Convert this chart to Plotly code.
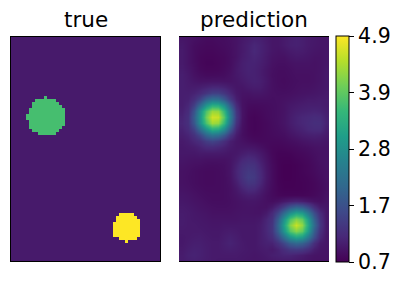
import plotly.graph_objects as go

tick_values = [0.7, 1.75, 2.8, 3.85, 4.9]
tick_labels = ["0.7", "1.7", "2.8", "3.9", "4.9"]
true_shape = (76, 50)
background_value = 1.0
green_value = 3.64
yellow_value = 4.9
# row: (first column, last column) of each blob in the "true" image
green_runs = {20: (11, 11), 21: (8, 14), 22: (7, 15), 23: (7, 16), 24: (6, 17), 25: (6, 17), 26: (5, 17),
              27: (5, 17), 28: (6, 17), 29: (6, 17), 30: (6, 16), 31: (7, 15), 32: (9, 14)}
yellow_runs = {59: (36, 40), 60: (35, 41), 61: (35, 42), 62: (34, 42), 63: (34, 42), 64: (34, 42), 65: (34, 42),
               66: (34, 42), 67: (36, 41), 68: (38, 38)}

prediction = [
[.95,.92,.88,.85,.82,.82,.84,.85,.88,.92,.98,1.03,1.08,1.06,1.0,.95,.95,1.0,1.05,1.08,1.05,1.0,.98,.95,.95],
[.98,.92,.85,.82,.8,.8,.82,.84,.87,.92,1.0,1.07,1.15,1.1,1.02,.95,.95,1.0,1.06,1.08,1.05,1.0,.97,.95,.95],
[1.0,.92,.84,.8,.78,.78,.8,.82,.86,.92,1.0,1.08,1.17,1.1,1.02,.95,.92,.95,1.0,1.03,1.02,.98,.95,.93,.95],
[1.0,.92,.84,.78,.76,.76,.78,.8,.85,.92,1.02,1.08,1.13,1.08,1.0,.92,.9,.9,.95,.98,.97,.95,.92,.92,.95],
[1.0,.92,.85,.78,.75,.75,.77,.8,.85,.95,1.05,1.1,1.1,1.05,.98,.9,.87,.87,.9,.92,.92,.92,.9,.92,.95],
[1.02,.95,.87,.8,.77,.77,.78,.82,.87,.97,1.05,1.1,1.08,1.03,.95,.88,.85,.85,.87,.9,.9,.9,.9,.92,.97],
[1.05,.98,.9,.85,.82,.82,.83,.85,.9,.97,1.03,1.08,1.08,1.03,.95,.87,.84,.84,.86,.88,.88,.88,.9,.93,.98],
[1.05,1.0,.95,.92,.92,.93,.93,.92,.92,.95,1.0,1.05,1.08,1.05,.97,.88,.84,.83,.85,.87,.88,.88,.9,.93,.98],
[1.05,1.02,1.02,1.05,1.1,1.15,1.15,1.1,1.02,.95,.95,1.0,1.03,1.02,.95,.88,.85,.84,.86,.88,.9,.9,.92,.95,.98],
[1.05,1.05,1.1,1.2,1.35,1.5,1.5,1.35,1.15,.98,.92,.92,.95,.95,.92,.88,.87,.87,.88,.9,.92,.93,.95,.97,1.0],
[1.05,1.08,1.25,1.55,2.0,2.25,2.2,1.85,1.4,1.05,.9,.87,.88,.88,.88,.87,.88,.9,.92,.95,.97,1.0,1.0,1.02,1.02],
[1.05,1.15,1.5,2.15,2.85,3.3,3.25,2.75,1.9,1.2,.9,.83,.82,.83,.84,.86,.88,.92,.97,1.0,1.03,1.05,1.05,1.05,1.02],
[1.08,1.22,1.8,2.8,3.7,4.25,4.2,3.45,2.35,1.35,.92,.8,.78,.8,.83,.85,.88,.92,1.0,1.05,1.08,1.1,1.12,1.1,1.05],
[1.12,1.28,1.95,2.9,3.95,4.6,4.55,3.75,2.5,1.4,.92,.78,.75,.78,.82,.85,.88,.93,1.02,1.1,1.15,1.18,1.22,1.2,1.08],
[1.15,1.28,1.85,2.8,3.7,4.3,4.2,3.45,2.3,1.3,.9,.78,.75,.77,.8,.84,.88,.93,1.02,1.1,1.15,1.2,1.25,1.25,1.1],
[1.1,1.22,1.55,2.2,2.85,3.35,3.25,2.7,1.85,1.15,.88,.78,.75,.77,.8,.83,.86,.9,.98,1.05,1.1,1.17,1.2,1.2,1.05],
[1.05,1.12,1.3,1.6,2.05,2.3,2.2,1.85,1.35,1.02,.87,.8,.77,.78,.8,.82,.84,.86,.92,.97,1.02,1.05,1.07,1.05,1.0],
[1.0,1.05,1.15,1.25,1.45,1.55,1.45,1.25,1.05,.95,.9,.85,.82,.8,.8,.8,.8,.82,.85,.88,.92,.95,.97,.97,.95],
[.98,1.0,1.03,1.1,1.18,1.2,1.15,1.08,1.0,.95,.95,.95,.93,.88,.82,.78,.77,.78,.8,.82,.85,.87,.9,.92,.92],
[.97,.97,.97,1.0,1.0,1.0,1.0,.98,.95,.97,1.03,1.08,1.05,.98,.88,.78,.74,.74,.75,.78,.8,.83,.87,.9,.92],
[.95,.93,.92,.92,.9,.9,.9,.9,.93,1.02,1.15,1.22,1.18,1.05,.92,.8,.73,.72,.72,.75,.77,.8,.85,.9,.92],
[.92,.9,.88,.87,.85,.84,.85,.87,.93,1.08,1.25,1.32,1.3,1.12,.95,.82,.73,.7,.7,.72,.75,.78,.83,.88,.92],
[.9,.88,.85,.83,.82,.82,.83,.86,.93,1.12,1.3,1.4,1.36,1.18,.97,.83,.73,.7,.7,.72,.75,.78,.82,.87,.9],
[.9,.87,.85,.83,.82,.82,.83,.85,.92,1.1,1.3,1.45,1.4,1.2,.98,.83,.73,.7,.7,.72,.74,.76,.8,.85,.9],
[.9,.88,.85,.83,.82,.82,.83,.85,.9,1.03,1.22,1.35,1.32,1.15,.95,.83,.74,.71,.71,.72,.73,.75,.78,.83,.88],
[.92,.9,.87,.85,.83,.83,.83,.85,.88,.97,1.1,1.2,1.18,1.05,.92,.82,.75,.72,.72,.72,.73,.75,.78,.82,.88],
[.95,.93,.9,.87,.85,.84,.84,.85,.88,.93,1.0,1.05,1.03,.97,.88,.82,.77,.76,.76,.76,.76,.77,.8,.84,.9],
[.97,.95,.92,.9,.87,.85,.85,.85,.87,.9,.93,.95,.95,.92,.88,.85,.9,.98,1.05,1.1,1.05,.97,.9,.87,.92],
[1.0,.98,.95,.92,.9,.88,.87,.87,.88,.9,.92,.93,.92,.9,.9,1.0,1.2,1.5,1.85,2.05,1.95,1.65,1.25,1.0,.95],
[1.02,1.0,.97,.95,.93,.9,.9,.9,.9,.92,.93,.93,.92,.92,1.0,1.2,1.6,2.2,2.8,3.15,3.0,2.4,1.7,1.2,.97],
[1.03,1.0,.98,.97,.95,.93,.93,.93,.93,.93,.95,.95,.95,.98,1.12,1.3,1.95,2.85,3.7,4.1,3.85,3.0,2.0,1.3,.97],
[1.02,1.0,1.0,.98,.97,.95,.95,.97,.97,.97,.97,.97,.97,1.02,1.15,1.35,2.1,3.1,4.1,4.55,4.2,3.2,2.15,1.35,.97],
[1.0,1.0,1.0,1.0,.98,.97,.97,1.0,1.02,1.0,.97,.97,.97,1.03,1.15,1.35,2.0,2.9,3.75,4.1,3.85,3.0,1.95,1.25,.97],
[.98,1.0,1.02,1.03,1.0,.98,.98,1.03,1.07,1.03,.98,.97,.97,1.03,1.12,1.25,1.65,2.25,2.85,3.15,3.0,2.4,1.7,1.15,.95],
[.98,1.02,1.05,1.05,1.02,1.0,1.0,1.05,1.1,1.05,1.0,.97,.97,1.03,1.08,1.1,1.3,1.6,1.95,2.1,2.0,1.7,1.25,1.0,.95],
[1.0,1.05,1.08,1.07,1.03,1.0,1.0,1.03,1.05,1.03,1.0,.98,.97,1.0,1.03,1.0,1.1,1.25,1.4,1.45,1.4,1.25,1.05,.95,.93],
[1.02,1.08,1.1,1.07,1.03,1.0,1.0,1.0,1.0,1.0,.98,.97,.95,.97,1.0,1.05,1.08,1.12,1.12,1.08,1.03,.97,.93,.92,.92],
[1.02,1.05,1.07,1.05,1.02,1.0,.98,.98,.98,.98,.97,.95,.95,.95,.97,.98,1.0,1.0,1.0,.97,.95,.92,.9,.9,.9],
]

true_image = [[background_value] * true_shape[1] for _ in range(true_shape[0])]
for runs, value in ((green_runs, green_value), (yellow_runs, yellow_value)):
    for row, (first, last) in runs.items():
        for col in range(first, last + 1):
            true_image[row][col] = value

W, H = 402, 286
L1, PW1, L2, PW2, TOP, BOT = 11, 149, 179, 150, 37, 261
FONT = "DejaVu Sans"

fig = go.Figure()
fig.add_trace(go.Heatmap(z=true_image, coloraxis="coloraxis", xaxis="x", yaxis="y", hoverinfo="skip"))
fig.add_trace(go.Heatmap(z=prediction, coloraxis="coloraxis", xaxis="x2", yaxis="y2", zsmooth="best", hoverinfo="skip"))

axis_style = dict(showticklabels=False, ticks="", showgrid=False, zeroline=False,
                  showline=True, mirror=True, linecolor="black", linewidth=1)
y_dom = [1 - BOT / H, 1 - TOP / H]
fig.update_layout(
    width=W, height=H, margin=dict(l=0, r=0, t=0, b=0),
    paper_bgcolor="white", plot_bgcolor="white", font=dict(family=FONT, color="black"),
    xaxis=dict(domain=[L1 / W, (L1 + PW1) / W], range=[-0.5, 49.2], **axis_style),
    yaxis=dict(domain=y_dom, range=[74.5, -0.2], **axis_style),
    xaxis2=dict(domain=[L2 / W, (L2 + PW2) / W], range=[-0.5, 24.5], **axis_style),
    yaxis2=dict(domain=y_dom, range=[37, -0.4], **axis_style),
    coloraxis=dict(
        colorscale="Viridis", cmin=0.7, cmax=4.9,
        colorbar=dict(
            x=336 / W, xanchor="left", xref="paper", y=1 - 149 / H, yanchor="middle", yref="paper",
            lenmode="pixels", len=226, thicknessmode="pixels", thickness=13,
            outlinewidth=1, outlinecolor="black",
            tickmode="array", tickvals=tick_values, ticktext=tick_labels,
            ticks="outside", ticklen=5, tickwidth=1, tickcolor="black",
            tickfont=dict(size=20.5, family=FONT, color="black"), xpad=0, ypad=0,
        ),
    ),
    annotations=[
        dict(text="true", x=(L1 + PW1 / 2) / W, y=1 - 34 / H, xref="paper", yref="paper",
             xanchor="center", yanchor="bottom", showarrow=False, font=dict(size=21.5, family=FONT, color="black")),
        dict(text="prediction", x=(L2 + PW2 / 2) / W, y=1 - 34 / H, xref="paper", yref="paper",
             xanchor="center", yanchor="bottom", showarrow=False, font=dict(size=21.5, family=FONT, color="black")),
    ],
)
fig.write_html("out.html", config=dict(displayModeBar=False),
               post_script="document.body.style.margin='0';document.documentElement.style.overflow='hidden';")
